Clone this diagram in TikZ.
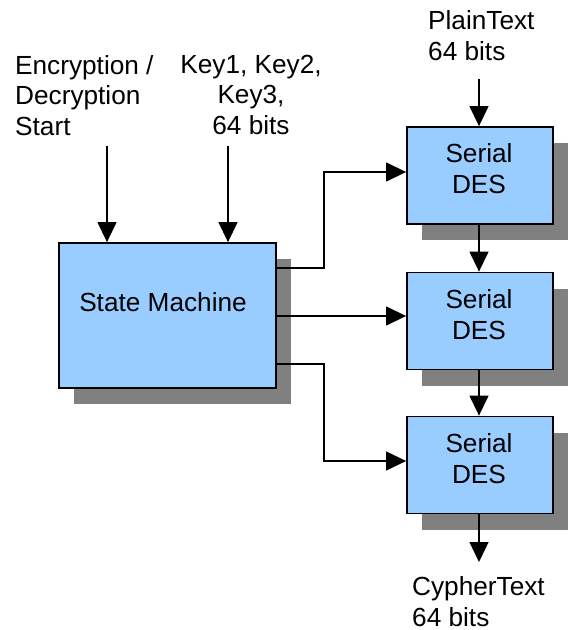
\documentclass[tikz,border=0pt]{standalone}
\usepackage{fontspec}
\setmainfont{Liberation Sans}
\usetikzlibrary{arrows.meta,shadows}
\definecolor{boxblue}{HTML}{99CCFF}
\definecolor{shadowgray}{HTML}{808080}
\begin{document}
\begin{tikzpicture}[x=1pt,y=-1pt,
  box/.style={draw=black,line width=1.8pt,fill=boxblue,inner sep=0pt,
    drop shadow={shadow xshift=15pt,shadow yshift=-16pt,fill=shadowgray,opacity=1}},
  txt/.style={inner sep=0pt,font=\fontsize{26.2}{30.7}\selectfont},
  arr/.style={line width=1.3pt,-{Triangle[width=19pt,length=20pt]}},
  wire/.style={line width=1.3pt}]
\useasboundingbox (0,0) rectangle (571,630);
% boxes
\node[box,minimum width=217pt,minimum height=145pt] (sm) at (167.5,315.5) {};
\node[box,minimum width=146pt,minimum height=97pt] (des1) at (480,175.5) {};
\node[box,minimum width=146pt,minimum height=97pt] (des2) at (480,321) {};
\node[box,minimum width=146pt,minimum height=97pt] (des3) at (480,465) {};
% box texts (base anchor = last line baseline)
\node[txt,anchor=base] (smt) at (163,311) {State Machine};
\node[txt,anchor=base,align=center] (d1t) at (479,193) {Serial\\DES};
\node[txt,anchor=base,align=center] (d2t) at (479,339) {Serial\\DES};
\node[txt,anchor=base,align=center] (d3t) at (479,483) {Serial\\DES};
% labels
\node[txt,anchor=base west,align=left] (enc) at (15,135.5) {Encryption /\\Decryption\\Start};
\node[txt,anchor=base,align=center] (key) at (251,134.5) {Key1, Key2,\\Key3,\\64 bits};
\node[txt,anchor=base west,align=left] (pt) at (428,60) {PlainText\\64 bits};
\node[txt,anchor=base west,align=left] (ct) at (412,626) {CypherText\\64 bits};
% connector ends
\coordinate (e1) at (107,146);
\coordinate (k1) at (228,146);
\coordinate (p1) at (479,79);
\coordinate (c1) at (479,562);
% arrows
\draw[arr] (e1) -- (e1 |- sm.north);
\draw[arr] (k1) -- (k1 |- sm.north);
\draw[arr] (p1) -- (p1 |- des1.north);
\draw[arr] (des1.south -| p1) -- (des2.north -| p1);
\draw[arr] (des2.south -| p1) -- (des3.north -| p1);
\draw[arr] (des3.south -| p1) -- (c1);
\draw[arr] (sm.east |- 0,268) -- (324,268) |- (des1.west |- 0,172);
\draw[arr] (sm.east |- 0,316) -- (des2.west |- 0,316);
\draw[arr] (sm.east |- 0,364) -- (324,364) |- (des3.west |- 0,461);
\end{tikzpicture}
\end{document}
